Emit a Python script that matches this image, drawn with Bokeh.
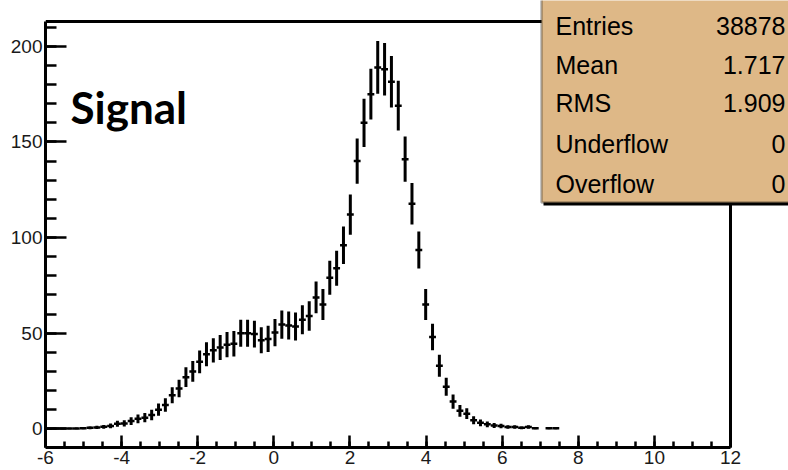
from bokeh.plotting import figure
from bokeh.models import Range1d, SingleIntervalTicker, BoxAnnotation, Label
from bokeh.embed import file_html
from bokeh.resources import INLINE

# Histogram binning: 100 bins on [-6, 12]
x_low = -6.0
bin_width = 0.18

# Bin contents, one per bin starting at x_low (None = empty bin, not drawn)
counts = [
    0.05, 0.08, 0.1, 0.15, 0.2, 0.3, 0.5, 0.7, 1.0, 1.5,
    2.6, 2.8, 4.0, 5.2, 5.8, 7.2, 10.0, 12.4, 17.5, 21.0,
    27.0, 30.0, 35.0, 39.0, 41.0, 42.5, 44.0, 44.5, 50.0, 50.0,
    49.5, 46.3, 47.0, 50.3, 54.5, 54.0, 53.5, 57.0, 59.0, 68.7,
    65.0, 79.0, 84.0, 96.0, 112.0, 140.0, 160.0, 175.0, 189.0, 188.0,
    181.5, 169.0, 141.0, 117.7, 93.5, 65.0, 48.0, 33.0, 22.0, 14.2,
    9.4, 7.9, 4.4, 3.1, 2.3, 1.7, 1.4, 0.9, 0.9, 0.5,
    0.9, 0.3, None, 0.3, 0.3,
]

x_ticks = [-6, -4, -2, 0, 2, 4, 6, 8, 10, 12]
x_tick_labels = ["-6", "-4", "-2", "0", "2", "4", "6", "8", "10", "12"]

stat_names = ["Entries", "Mean", "RMS", "Underflow", "Overflow"]
stat_values = ["38878", "1.717", "1.909", "0", "0"]

title_text = "Signal"

# ---- axis limits of the histogram pad
X_MIN, X_MAX = -6.0, 12.0
Y_MIN, Y_MAX = -9.8, 213.0

# ---- pixel geometry: the pad box is 685 x 426 px; the drawing frame is
# extended up and right so that the statistics box can overhang the pad
PAD_L, PAD_T, PAD_W, PAD_H = 45, 21, 685, 426
CANVAS_W = 788
SX = PAD_W / (X_MAX - X_MIN)
SY = PAD_H / (Y_MAX - Y_MIN)
FRAME_W = CANVAS_W - PAD_L
FRAME_H = PAD_T + PAD_H
X_END = X_MIN + FRAME_W / SX
Y_END = Y_MAX + PAD_T / SY


def px_to_x(px):
    return X_MIN + (px - PAD_L) / SX


def py_to_y(py):
    return Y_MAX - (py - PAD_T) / SY


p = figure(
    frame_width=FRAME_W, frame_height=FRAME_H,
    x_range=Range1d(X_MIN, X_END), y_range=Range1d(Y_MIN, Y_END),
    output_backend="svg", toolbar_location=None,
    min_border_left=PAD_L, min_border_right=0,
    min_border_top=0, min_border_bottom=23,
    background_fill_color="white", border_fill_color="white",
)
p.xgrid.visible = False
p.ygrid.visible = False
p.outline_line_color = None

p.xaxis.ticker = SingleIntervalTicker(interval=2, num_minor_ticks=4)
p.yaxis.ticker = SingleIntervalTicker(interval=50, num_minor_ticks=5)
p.xaxis.major_label_overrides = dict(zip(x_ticks, x_tick_labels))
p.xaxis.bounds = (X_MIN, X_MAX)
p.yaxis.bounds = (Y_MIN, Y_MAX)

for ax in (p.xaxis[0], p.yaxis[0]):
    ax.axis_line_width = 3
    ax.axis_line_color = "black"
    ax.major_tick_out = 0
    ax.minor_tick_out = 0
    ax.major_tick_line_width = 2.5
    ax.minor_tick_line_width = 2.5
    ax.major_tick_line_color = "black"
    ax.minor_tick_line_color = "black"
    ax.major_label_text_font = "Liberation Sans"
    ax.major_label_text_font_size = "19px"
    ax.major_label_text_color = "#1a1a1a"

p.xaxis.major_tick_in = 12
p.xaxis.minor_tick_in = 6
p.xaxis.major_label_standoff = 3
p.yaxis.major_tick_in = 21
p.yaxis.minor_tick_in = 11
p.yaxis.major_label_standoff = 3

# top and right edges of the pad box
p.segment(x0=[X_MIN, X_MAX], y0=[Y_MAX, Y_MIN], x1=[X_MAX, X_MAX], y1=[Y_MAX, Y_MAX],
          line_color="black", line_width=3)

# ---- error bars: vertical sqrt(N) bars and horizontal bin-width bars
xc, lo, hi, val, e_lo, e_hi = [], [], [], [], [], []
for k, c in enumerate(counts):
    if c is None:
        continue
    left = x_low + k * bin_width
    err = c ** 0.5
    xc.append(left + bin_width / 2)
    lo.append(left)
    hi.append(left + bin_width)
    val.append(c)
    e_lo.append(c - err)
    e_hi.append(c + err)

p.segment(x0=xc, y0=e_lo, x1=xc, y1=e_hi, line_color="black", line_width=3)
p.segment(x0=lo, y0=val, x1=hi, y1=val, line_color="black", line_width=2.5)

# ---- label inside the pad
p.add_layout(Label(
    x=px_to_x(70), y=py_to_y(106), text=title_text,
    text_font="Lato", text_font_style="bold", text_font_size="44px",
    text_color="black", text_baseline="alphabetic", text_align="left",
))

# ---- statistics box (with a small shadow along the bottom)
p.add_layout(BoxAnnotation(
    left=px_to_x(543), right=px_to_x(800), top=py_to_y(201), bottom=py_to_y(205),
    fill_color="black", fill_alpha=1.0, line_color=None, level="overlay",
))
p.add_layout(BoxAnnotation(
    left=px_to_x(541), right=px_to_x(800), top=py_to_y(-5), bottom=py_to_y(202),
    fill_color="#DEB887", fill_alpha=1.0, line_color="black", line_width=2.5,
    level="overlay",
))
row_y = [25, 64, 102, 143, 183]
for name, v, ry in zip(stat_names, stat_values, row_y):
    p.add_layout(Label(
        x=px_to_x(555), y=py_to_y(ry), text=name,
        text_font="Liberation Sans", text_font_size="25px", text_color="black",
        text_baseline="middle", text_align="left", level="overlay",
    ))
    p.add_layout(Label(
        x=px_to_x(785), y=py_to_y(ry), text=v,
        text_font="Liberation Sans", text_font_size="25px", text_color="black",
        text_baseline="middle", text_align="right", level="overlay",
    ))

open("out.html", "w").write(file_html(p, INLINE))
